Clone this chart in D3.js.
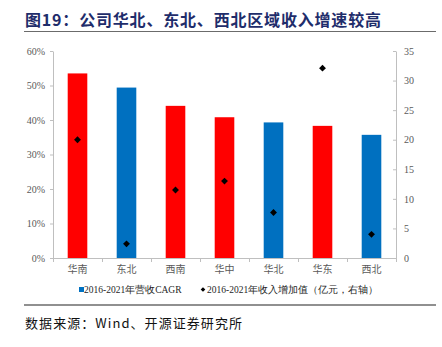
<!DOCTYPE html>
<html><head><meta charset="utf-8">
<script src="https://cdn.jsdelivr.net/npm/d3@7"></script>
<style>body{margin:0;background:#fff}svg{display:block}</style>
</head><body>
<svg id="c" width="442" height="347"></svg>
<script>
const categories = ["华南","东北","西南","华中","华北","华东","西北"];
const cagr = [0.535, 0.494, 0.441, 0.408, 0.393, 0.383, 0.357];
const increment = [20.0, 2.4, 11.5, 13.0, 7.7, 32.1, 4.0];
const highlight = [false, true, false, false, true, false, true];
const leftTicks = [0,0.1,0.2,0.3,0.4,0.5,0.6];
const rightTicks = [0,5,10,15,20,25,30,35];
const title = "图19：公司华北、东北、西北区域收入增速较高";
const source = "数据来源：Wind、开源证券研究所";
const legendLabels = ["2016-2021年营收CAGR","2016-2021年收入增加值（亿元，右轴）"];

const svg = d3.select("#c");
const x0 = 53, x1 = 396, yTop = 51, yBot = 258;
const x = d3.scaleBand().domain(categories).range([x0, x1]).paddingInner(0.6).paddingOuter(0.3);
const xb = d3.scaleBand().domain(categories).range([x0, x1]);
const yL = d3.scaleLinear().domain([0,0.6]).range([yBot, yTop]);
const yR = d3.scaleLinear().domain([0,35]).range([yBot, yTop]);
const axisColor = "#bfbfbf";
const serif = "'Liberation Serif','Times New Roman',serif";
const cjk = "'Noto Sans CJK SC',sans-serif";

// title
svg.append("text").attr("x",25).attr("y",25.5).attr("fill","#1f2d6b")
  .attr("font-family",cjk).attr("font-weight","bold").attr("font-size",16)
  .attr("textLength",356).attr("lengthAdjust","spacing").text(title);
svg.append("line").attr("x1",24).attr("x2",436).attr("y1",31.5).attr("y2",31.5)
  .attr("stroke","#6b6b6b").attr("stroke-width",1);

// bars
svg.append("g").selectAll("rect").data(categories).join("rect")
  .attr("x", d => x(d)).attr("width", x.bandwidth())
  .attr("y", (d,i) => yL(cagr[i])).attr("height", (d,i) => yBot - yL(cagr[i]))
  .attr("fill", (d,i) => highlight[i] ? "#0070c0" : "#ff0000");

// left axis
const gL = svg.append("g").attr("transform",`translate(${x0},0)`)
  .call(d3.axisLeft(yL).tickValues(leftTicks).tickFormat(d3.format(".0%")).tickSize(3).tickSizeOuter(0));
// right axis
const gR = svg.append("g").attr("transform",`translate(${x1},0)`)
  .call(d3.axisRight(yR).tickValues(rightTicks).tickSize(-3).tickSizeOuter(0));
[gL,gR].forEach(g => {
  g.select(".domain").attr("stroke",axisColor);
  g.selectAll(".tick line").attr("stroke",axisColor);
  g.selectAll("text").attr("font-family",serif).attr("font-size",10).attr("fill","#595959");
});
gL.selectAll("text").attr("x",-8);
gR.selectAll("text").attr("x",8);

// bottom axis with ticks at band boundaries
svg.append("line").attr("x1",x0).attr("x2",x1).attr("y1",yBot+0.5).attr("y2",yBot+0.5).attr("stroke",axisColor);
const bounds = categories.map(c => xb(c)).concat([x1]);
svg.append("g").selectAll("line").data(bounds).join("line")
  .attr("x1", d => Math.round(d)+0.5).attr("x2", d => Math.round(d)+0.5)
  .attr("y1", yBot).attr("y2", yBot+4).attr("stroke",axisColor);
svg.append("g").selectAll("text").data(categories).join("text")
  .attr("x", d => xb(d) + xb.bandwidth()/2).attr("y", 273)
  .attr("text-anchor","middle").attr("font-family",cjk).attr("font-size",10).attr("fill","#595959")
  .text(d => d);

// diamonds
const diamond = d3.symbol().type(d3.symbolDiamond2).size(30);
svg.append("g").selectAll("path").data(categories).join("path")
  .attr("d", diamond)
  .attr("transform", (d,i) => `translate(${xb(d)+xb.bandwidth()/2},${yR(increment[i])})`)
  .attr("fill","#000");

// legend
svg.append("rect").attr("x",79).attr("y",287).attr("width",5).attr("height",5).attr("fill","#0070c0");
svg.append("text").attr("x",84).attr("y",293).attr("font-family",serif).attr("font-size",9.5).attr("fill","#262626")
  .text(legendLabels[0]);
svg.append("path").attr("d", d3.symbol().type(d3.symbolDiamond2).size(14))
  .attr("transform","translate(203,289.5)").attr("fill","#000");
svg.append("text").attr("x",207).attr("y",293).attr("font-family",serif).attr("font-size",9.5).attr("fill","#262626")
  .text(legendLabels[1]);

// bottom rule and source
svg.append("line").attr("x1",24).attr("x2",436).attr("y1",305).attr("y2",305)
  .attr("stroke","#6b6b6b").attr("stroke-width",1.5);
svg.append("text").attr("x",25).attr("y",328).attr("font-family",cjk).attr("font-size",13).attr("fill","#111")
  .attr("textLength",217).attr("lengthAdjust","spacing")
  .text(source);
</script>
</body></html>
